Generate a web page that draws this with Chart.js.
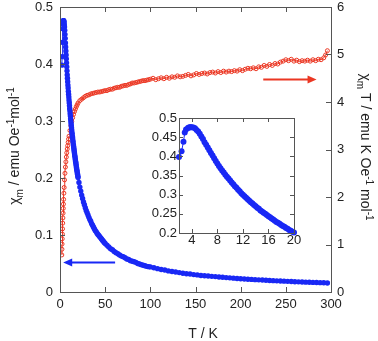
<!DOCTYPE html>
<html>
<head>
<meta charset="utf-8">
<script src="https://cdn.jsdelivr.net/npm/chart.js@4"></script>
<style>
body{margin:0;background:#fff;}
#wrap{position:relative;width:378px;height:341px;}
canvas{position:absolute;}
</style>
</head>
<body>
<div id="wrap">
<canvas id="main" width="378" height="341" style="left:0;top:0"></canvas>
<canvas id="inset" width="175" height="145" style="left:130px;top:105px"></canvas>
</div>
<script>
// chi_m (left axis), blue
var tBlue = [2,2.4,2.7,2.9,3.1,3.4,3.55,3.7,3.85,4,4.25,4.5,4.75,5,5.25,5.5,5.75,6,6.25,6.5,6.75,7,7.25,7.5,7.75,8,8.25,8.5,8.75,9,9.25,9.5,9.75,10,
  10.25,10.5,10.75,11,11.25,11.5,11.75,12,12.25,12.5,12.75,13,13.25,13.5,13.75,14,14.25,14.5,14.75,15,15.25,15.5,15.75,16,16.25,16.5,16.75,17,
  17.25,17.5,17.75,18,18.25,18.5,18.75,19,19.25,19.5,19.75,20,
  21,22,23,24,25,26,27,28,29,30,31,32,33,34,35,36,37,38,39,40,41,42,43,44,45,46,47,48,49,50,
  52,54,56,58,60,62,64,66,68,70,72,74,76,78,80,82,84,86,88,90,92,94,96,98,100,
  104,108,112,116,120,124,128,132,136,140,144,148,152,156,160,164,168,172,176,180,184,188,192,196,200,
  204,208,212,216,220,224,228,232,236,240,244,248,252,256,260,264,268,272,276,280,284,288,292,296];
var chiBlue = [0.398,0.413,0.438,0.462,0.470,0.474,0.475,0.476,0.476,0.476,0.475,0.473,0.469,0.465,0.459,0.452,0.445,0.437,0.430,0.423,0.416,0.409,0.402,0.395,0.388,0.381,0.375,0.369,0.363,0.358,0.352,0.347,0.342,0.337,
  0.332,0.327,0.322,0.318,0.313,0.309,0.304,0.300,0.296,0.292,0.288,0.284,0.280,0.277,0.273,0.270,0.266,0.263,0.259,0.256,0.253,0.250,0.247,0.244,0.241,0.238,0.235,0.232,
  0.229,0.227,0.224,0.221,0.218,0.216,0.213,0.211,0.208,0.206,0.203,0.201,
  0.192,0.184,0.177,0.170,0.164,0.158,0.153,0.148,0.143,0.139,0.135,0.131,0.127,0.124,0.120,0.117,0.114,0.111,0.108,0.106,0.103,0.101,0.099,0.097,0.095,0.093,0.091,0.089,0.087,0.085,
  0.082,0.079,0.076,0.074,0.071,0.069,0.067,0.065,0.063,0.062,0.060,0.058,0.057,0.055,0.054,0.053,0.052,0.050,0.049,0.048,0.047,0.046,0.045,0.0445,0.044,
  0.0425,0.041,0.0395,0.0385,0.037,0.036,0.035,0.034,0.033,0.032,0.0315,0.0305,0.030,0.029,0.0285,0.028,0.0275,0.027,0.0263,0.0258,0.0253,0.0248,0.0243,0.0238,0.0233,
  0.0229,0.0225,0.0221,0.0217,0.0213,0.021,0.0206,0.0203,0.0199,0.0196,0.0193,0.019,0.0187,0.0184,0.0181,0.0178,0.0176,0.0173,0.0171,0.0168,0.0166,0.0164,0.0161,0.0159];

// chi_m T (right axis), red
var tRed = [2,2.15,2.3,2.45,2.6,2.8,3,3.2,3.4,3.6,3.8,4,4.3,4.6,5,5.5,6,6.5,7,7.5,8,8.5,9,9.5,10,11,12,13,14,15,16,17,18,19,
  20,22,24,26,28,30,32,34,36,38,40,42,44,46,48,50,52,54,56,58,60,62,64,66,68,70,72,74,76,78,80,82,84,86,88,90,92,94,96,98,
  100,103,106,109,112,115,118,121,124,127,130,133,136,139,142,145,148,151,154,157,160,163,166,169,172,175,178,181,184,187,190,193,196,199,
  202,205,208,211,214,217,220,223,226,229,232,235,238,241,244,247,250,253,256,259,262,265,268,271,274,277,280,283,286,289,292,294,296];
var chiTRed = [0.78,0.90,1.01,1.12,1.22,1.33,1.45,1.56,1.66,1.76,1.85,1.95,2.08,2.20,2.36,2.50,2.63,2.74,2.84,2.93,3.01,3.08,3.15,3.22,3.28,3.40,3.50,3.59,3.67,3.74,3.80,3.85,3.90,3.94,
  3.98,4.03,4.06,4.09,4.12,4.14,4.15,4.17,4.18,4.19,4.20,4.21,4.21,4.22,4.23,4.24,4.24,4.26,4.27,4.27,4.29,4.30,4.31,4.31,4.33,4.34,4.35,4.35,4.37,4.38,4.40,4.40,4.41,4.42,4.43,4.44,4.45,4.45,4.46,4.47,
  4.48,4.50,4.47,4.49,4.51,4.49,4.52,4.50,4.53,4.52,4.55,4.53,4.54,4.56,4.58,4.55,4.57,4.60,4.58,4.60,4.61,4.59,4.62,4.63,4.61,4.64,4.62,4.65,4.63,4.65,4.64,4.66,4.65,4.68,
  4.66,4.69,4.71,4.70,4.72,4.70,4.74,4.73,4.77,4.75,4.79,4.77,4.81,4.80,4.84,4.86,4.89,4.87,4.90,4.86,4.88,4.85,4.87,4.86,4.88,4.86,4.89,4.87,4.90,4.89,4.93,4.99,5.08];

var xTicks = [0,50,100,150,200,250,300];
var leftTicks = [0,0.1,0.2,0.3,0.4,0.5];
var rightTicks = [0,1,2,3,4,5,6];
var insetXTicks = [4,8,12,16,20];
var insetYTicks = [0.2,0.25,0.3,0.35,0.4,0.45,0.5];

var BLUE = 'rgb(25,40,245)';
var RED = 'rgb(235,55,35)';
var FONT = "'Liberation Sans', Arial, sans-serif";
var INK = '#222';

function pts(xs, ys, maxX){
    var out = [];
    for(var i = 0; i < xs.length; i++){
        if(maxX === undefined || xs[i] <= maxX) out.push({x: xs[i], y: ys[i]});
    }
    return out;
}
function fixTicks(arr){
    return function(scale){ scale.ticks = arr.map(function(v){ return {value: v}; }); };
}
// fixed axis box size, and no extra room for half tick labels at the ends
function fixSize(w, h){
    return function(scale){
        if(w !== null) scale.width = w;
        if(h !== null) scale.height = h;
        scale.paddingTop = 0; scale.paddingBottom = 0;
        scale.paddingLeft = 0; scale.paddingRight = 0;
    };
}
function plainNum(v){ return String(+Number(v).toFixed(2)); }

// frame box and inward tick marks
var frameTicks = {
    id: 'frameTicks',
    afterDatasetsDraw: function(chart, args, o){
        var ctx = chart.ctx, a = chart.chartArea, len = o.len;
        ctx.save();
        ctx.strokeStyle = '#555';
        ctx.lineWidth = 1;
        ctx.strokeRect(Math.round(a.left) + 0.5, Math.round(a.top) + 0.5, Math.round(a.right - a.left), Math.round(a.bottom - a.top));
        ctx.beginPath();
        chart.scales.x.ticks.forEach(function(t){
            var p = Math.round(chart.scales.x.getPixelForValue(t.value)) + 0.5;
            ctx.moveTo(p, a.bottom); ctx.lineTo(p, a.bottom - len);
            ctx.moveTo(p, a.top); ctx.lineTo(p, a.top + len);
        });
        o.ySides.forEach(function(s){
            var sc = chart.scales[s[0]];
            sc.ticks.forEach(function(t){
                var p = Math.round(sc.getPixelForValue(t.value)) + 0.5;
                if(s[1].indexOf('l') >= 0){ ctx.moveTo(a.left, p); ctx.lineTo(a.left + len, p); }
                if(s[1].indexOf('r') >= 0){ ctx.moveTo(a.right, p); ctx.lineTo(a.right - len, p); }
            });
        });
        ctx.stroke();
        ctx.restore();
    }
};

// text with sub/superscripts, centred at (cx, cy), rotated by rot
function drawRich(ctx, parts, cx, cy, rot, size){
    ctx.save();
    ctx.translate(cx, cy);
    ctx.rotate(rot);
    ctx.fillStyle = INK;
    ctx.textBaseline = 'alphabetic';
    var small = Math.round(size * 0.68);
    var w = 0;
    parts.forEach(function(p){
        ctx.font = (p[1] ? small : size) + 'px ' + FONT;
        w += ctx.measureText(p[0]).width;
    });
    var x = -w / 2, base = size * 0.36;
    parts.forEach(function(p){
        ctx.font = (p[1] ? small : size) + 'px ' + FONT;
        var dy = p[1] === 1 ? -size * 0.38 : (p[1] === -1 ? size * 0.25 : 0);
        ctx.fillText(p[0], x, base + dy);
        x += ctx.measureText(p[0]).width;
    });
    ctx.restore();
}

function arrow(ctx, x0, x1, y, color){
    var dir = x1 > x0 ? 1 : -1;
    ctx.save();
    ctx.strokeStyle = color; ctx.fillStyle = color; ctx.lineWidth = 2;
    ctx.beginPath(); ctx.moveTo(x0, y); ctx.lineTo(x1 - dir * 6, y); ctx.stroke();
    ctx.beginPath(); ctx.moveTo(x1, y); ctx.lineTo(x1 - dir * 9, y - 4); ctx.lineTo(x1 - dir * 9, y + 4); ctx.closePath(); ctx.fill();
    ctx.restore();
}

var decor = {
    id: 'decor',
    afterDraw: function(chart){
        var ctx = chart.ctx, sx = chart.scales.x, sy = chart.scales.y, sy2 = chart.scales.y2;
        arrow(ctx, sx.getPixelForValue(61), sx.getPixelForValue(3.5), Math.round(sy.getPixelForValue(0.053)) + 0.5, BLUE);
        arrow(ctx, sx.getPixelForValue(225), sx.getPixelForValue(284), Math.round(sy2.getPixelForValue(4.48)) + 0.5, RED);
        drawRich(ctx, [['χ',0],['m',-1],[' / emu Oe',0],['-1',1],['mol',0],['-1',1]], 14, 146, -Math.PI / 2, 14);
        drawRich(ctx, [['χ',0],['m',-1],[' T / emu K Oe',0],['-1',1],[' mol',0],['-1',1]], 366, 147, Math.PI / 2, 14);
        drawRich(ctx, [['T / K',0]], 203, 333, 0, 14);
    }
};

var tickFont = {family: FONT, size: 13};

new Chart(document.getElementById('main').getContext('2d'), {
    type: 'scatter',
    data: {
        datasets: [{
            data: pts(tBlue, chiBlue),
            yAxisID: 'y',
            showLine: true,
            borderColor: BLUE,
            borderWidth: 1,
            backgroundColor: BLUE,
            pointBackgroundColor: BLUE,
            pointBorderWidth: 0,
            pointRadius: 2.7,
            order: 1
        },{
            data: pts(tRed, chiTRed),
            yAxisID: 'y2',
            showLine: true,
            borderColor: RED,
            borderWidth: 1,
            pointBorderColor: RED,
            pointBackgroundColor: 'rgba(255,255,255,0)',
            pointBorderWidth: 1,
            pointRadius: 2,
            order: 2
        }]
    },
    options: {
        responsive: false,
        animation: false,
        devicePixelRatio: 1,
        layout: {padding: {top: 7, left: 0, right: 0, bottom: 0}},
        plugins: {legend: {display: false}, tooltip: {enabled: false}, frameTicks: {len: 5, ySides: [['y','l'],['y2','r']]}},
        scales: {
            x: {
                type: 'linear', min: 0, max: 300,
                afterBuildTicks: fixTicks(xTicks), afterFit: fixSize(null, 49),
                grid: {display: false, drawTicks: false}, border: {display: false},
                ticks: {font: tickFont, color: INK, padding: 5, maxRotation: 0}
            },
            y: {
                position: 'left', min: 0, max: 0.5,
                afterBuildTicks: fixTicks(leftTicks), afterFit: fixSize(60, null),
                grid: {display: false, drawTicks: false}, border: {display: false},
                ticks: {font: tickFont, color: INK, padding: 7, callback: plainNum}
            },
            y2: {
                position: 'right', min: 0, max: 6,
                afterBuildTicks: fixTicks(rightTicks), afterFit: fixSize(47, null),
                grid: {display: false, drawTicks: false}, border: {display: false},
                ticks: {font: tickFont, color: INK, padding: 6}
            }
        }
    },
    plugins: [frameTicks, decor]
});

new Chart(document.getElementById('inset').getContext('2d'), {
    type: 'scatter',
    data: {
        datasets: [{
            data: pts(tBlue, chiBlue, 20),
            showLine: true,
            borderColor: BLUE,
            borderWidth: 1,
            pointBackgroundColor: BLUE,
            pointBorderWidth: 0,
            pointRadius: 3,
            clip: false
        }]
    },
    options: {
        responsive: false,
        animation: false,
        devicePixelRatio: 1,
        layout: {padding: {top: 13, left: 0, right: 11, bottom: 0}},
        plugins: {legend: {display: false}, tooltip: {enabled: false}, frameTicks: {len: 4, ySides: [['y','lr']]}},
        scales: {
            x: {
                type: 'linear', min: 2, max: 20,
                afterBuildTicks: fixTicks(insetXTicks), afterFit: fixSize(null, 17),
                grid: {display: false, drawTicks: false}, border: {display: false},
                ticks: {font: tickFont, color: INK, padding: 0, maxRotation: 0}
            },
            y: {
                min: 0.2, max: 0.5,
                afterBuildTicks: fixTicks(insetYTicks), afterFit: fixSize(49, null),
                grid: {display: false, drawTicks: false}, border: {display: false},
                ticks: {font: tickFont, color: INK, padding: 2, callback: plainNum}
            }
        }
    },
    plugins: [frameTicks]
});
</script>
</body>
</html>
